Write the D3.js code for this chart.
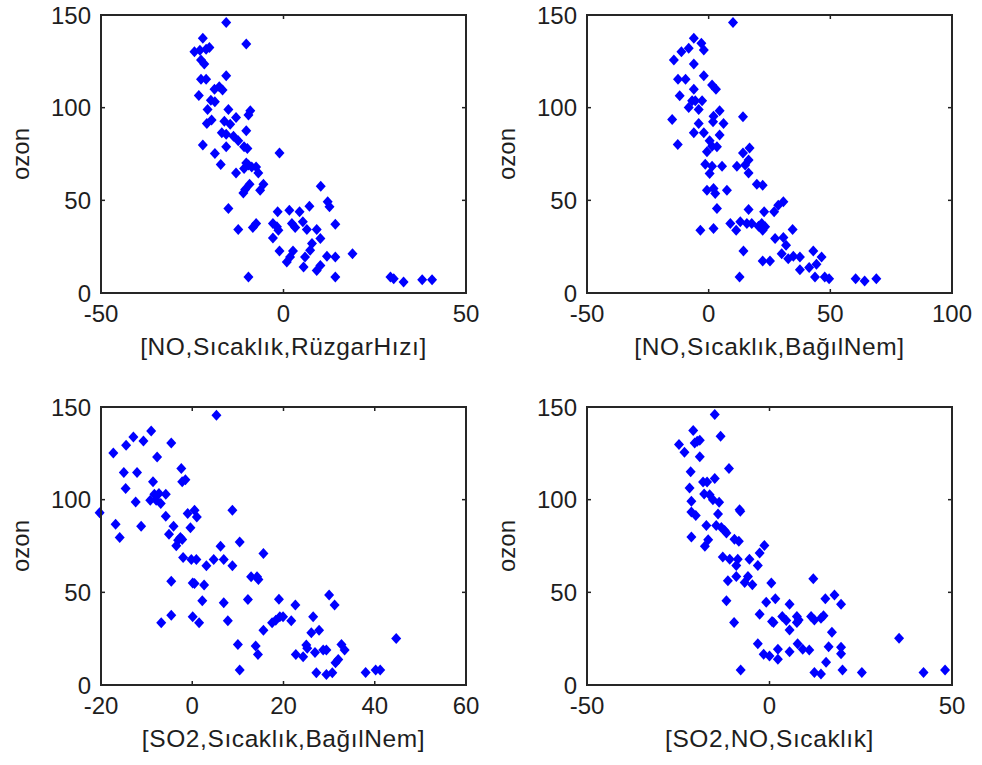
<!DOCTYPE html>
<html>
<head>
<meta charset="utf-8">
<script src="https://cdn.jsdelivr.net/npm/d3@7"></script>
<style>
  body { margin: 0; background: #fff; }
</style>
</head>
<body>
<div id="chart"></div>
<script>
    // ozon vs. model input, four panels
    var yLabel = "ozon";
    var xLabels = ["[NO,Sıcaklık,RüzgarHızı]", "[NO,Sıcaklık,BağılNem]",
                   "[SO2,Sıcaklık,BağılNem]", "[SO2,NO,Sıcaklık]"];
    var xDomains = [[-50, 50], [-50, 100], [-20, 60], [-50, 50]];
    var xTicks = [[-50, 0, 50], [-50, 0, 50, 100], [-20, 0, 20, 40, 60], [-50, 0, 50]];
    var yTicks = [0, 50, 100, 150];

    var pts1 = [[-15.7,145.9],[-22.1,137.4],[-10.2,134.3],[-24.4,130.2],[-22.9,131],[-21.2,131.5],[-20.3,132.5],
      [-22.6,125.7],[-21.7,123.5],[-15.7,117.2],[-22.6,115.3],[-21.2,115.3],[-18.9,110],[-17.6,111.3],[-16.7,109.5],
      [-23.2,106.6],[-19.9,104],[-18.8,103.2],[-20.8,99],[-15.1,99],[-9.1,98.3],[-9.6,96],[-13,94.7],[-21,91.5],
      [-19.7,93.3],[-16.2,92.7],[-14.6,91.1],[-10.2,87.5],[-16.9,86.4],[-15.7,85.7],[-13.7,84.6],[-12.4,82.1],
      [-10.8,78.9],[-9.9,78],[-22.1,79.8],[-15.7,78.9],[-18.8,75.3],[-1.1,75.6],[-17.2,69.3],[-10.2,70.2],
      [-9.6,69],[-8.7,68],[-7.5,68],[-10.8,67.2],[-13,64.8],[-6.9,64.8],[-9.3,58.7],[-10.5,55.8],[-11,54],
      [-5.5,58.7],[-6.4,55.5],[10.2,57.6],[-15.1,45.6],[12.1,49.2],[12.6,46.5],[-1.6,43.8],[1.6,44.7],[4.4,43.8],
      [7.1,46.8],[-12.4,34.2],[-8.4,35.3],[-7.5,37.5],[-2.9,37.5],[-1.8,35.7],[-1.4,33.9],[2.3,37.5],[3.2,35.3],
      [5.3,38.4],[6.4,34.2],[9.1,34.2],[14.2,37.1],[-2.9,29.7],[10.1,29.4],[7.8,26.7],[7.3,23],[-1.1,22.7],
      [2.6,22.7],[1.8,19.4],[0.9,16.7],[5.9,19.4],[11.9,19.8],[14.2,19.4],[18.9,21.2],[5.5,14],[9.1,12.2],
      [10.1,14.9],[-9.6,8.6],[14.2,8.6],[29.3,8.6],[30.2,7.7],[32.9,5.9],[38,7.2],[40.7,7.2]];

    var pts2 = [[10,145.9],[-6.1,137.4],[-3,134.7],[-2,131.1],[-8.2,132],[-11.2,130.2],[-14.3,125.7],[-6.1,123.5],
      [-2,117.2],[-12.6,115.3],[-9.5,115.3],[1.4,112.2],[3,109.9],[-6.1,109.9],[-11.9,106.4],[-6.8,103.7],
      [-5.5,103.7],[-2.7,103.7],[-8.2,100.1],[-4.1,99],[4.5,98.3],[2,95.4],[1.8,92.4],[14.1,95.1],[-15,93.6],
      [-4.1,91.5],[6.1,91.5],[-6.1,86.4],[-2,86.4],[4.5,85.2],[0.4,82.1],[1.4,79.2],[3.4,78.9],[-12.7,80.1],
      [-0.7,76.2],[16.8,78.3],[14.1,75.6],[16.4,71.7],[-1.4,69.5],[1.4,68.4],[0.4,64.5],[5.5,68.4],[11.6,68.4],
      [15,69],[16.4,64.8],[19.8,58.7],[22.2,58.2],[-0.7,55.5],[2,56.4],[2.7,53.7],[7.5,55.5],[30.7,49.2],
      [28.6,47.4],[26.9,43.8],[3.4,45.6],[16.4,45],[22.8,43.8],[8.9,37.5],[11.3,33.9],[13,38.4],[15.7,37.5],
      [17.7,37.5],[20.5,36],[21.8,37.5],[23.2,35.7],[22.2,33.9],[-3.4,33.9],[2,34.8],[34.5,34.2],[27.3,29.4],
      [30.7,29.9],[31.8,25.8],[30,21.2],[32.7,18.5],[34.8,19.8],[37.5,19.4],[43,22.7],[46.4,19.4],[14.3,22.7],
      [22.2,17.3],[25.2,17.3],[44.3,15.5],[41.3,13.7],[37.5,12.6],[12.7,8.6],[43.7,8.6],[47.7,8.6],[49.5,7.7],
      [60.4,7.7],[64.1,6.5],[68.9,7.7]];

    var pts3 = [[5.3,145.5],[-9,137.1],[-12.9,133.8],[-14.5,129.3],[-10.7,131.7],[-4.6,130.6],[-17.3,125.2],
      [-7.7,123],[-15,114.6],[-12.1,114.6],[-2.4,116.8],[-1.5,110.8],[-2.2,109.6],[-8.6,109.6],[-14.6,106],
      [-8.3,102.9],[-7.3,103.3],[-5.8,102.9],[-9.2,99.7],[-7.9,99.7],[-6.9,97.9],[-12.4,98.8],[-20.3,93],
      [-5.8,91.1],[-1,92.5],[0.5,94.3],[1,90.7],[8.8,94.3],[-16.8,86.8],[-11.2,85.7],[-4.1,85.7],[-0.4,84.8],
      [-15.9,79.6],[-5.1,81.4],[-3.1,78.1],[-2.6,79.6],[-2.2,78.5],[-3.5,75.1],[6.2,74.9],[10.4,77.2],[-2,68.8],
      [-0.2,67.7],[0.9,67.7],[3.1,64.3],[4.7,67.7],[6.9,67.7],[8.8,64.3],[15.6,71],[12.9,58.4],[14.2,58.4],
      [14.5,56.9],[-4.6,56],[0.1,55.1],[0.5,54.8],[2.6,53.9],[2.2,45.4],[6.9,44.4],[12.2,46.2],[19,46.3],
      [22.6,43.1],[30,48.5],[31.2,43.1],[-6.8,33.6],[-4.6,37.7],[0.1,36.8],[1.5,33.6],[7.8,34.7],[15.6,29.6],
      [17.5,33.6],[18.3,35],[19.2,36.8],[19.9,36.8],[21.7,34.7],[26.5,36.8],[26.1,28.2],[27.8,29.6],[10,21.9],
      [13.9,21],[14.4,16.5],[10.4,8.1],[22.7,16.5],[24.3,15.3],[25,21.6],[25.2,19.8],[26.9,17.6],[28.7,18.9],
      [29.4,18.9],[32.7,21.9],[33.4,18.9],[32,13.8],[31.4,12],[27.2,6.6],[29.4,5.7],[30.7,6.6],[38,6.8],
      [40.2,8.1],[41.2,8.1],[44.7,25.1]];

    var pts4 = [[-15,146],[-20.9,137.3],[-13.4,134.2],[-24.8,129.7],[-20.5,130.6],[-19.8,131.5],[-19.1,132.1],
      [-23.3,125.6],[-19.1,123.1],[-11.1,116.8],[-21.6,115],[-15,111.4],[-18.2,109.5],[-17.1,109.5],
      [-21.9,106.3],[-17.9,103.1],[-16.4,102.7],[-15.5,100],[-13.8,98.6],[-21.4,99.1],[-21.4,93.3],[-20.2,91.4],
      [-14.1,92.3],[-8.2,94.6],[-8,93.7],[-17.3,86.1],[-14.6,86.1],[-13.2,85],[-12.3,83.4],[-11.8,82],
      [-21.4,79.8],[-16.8,78.4],[-17.7,74.8],[-9.6,78.7],[-8.4,77.5],[-1.4,75.3],[-2.7,71.2],[-12.8,69],
      [-10.9,67.9],[-8.7,67.9],[-5.5,67.9],[-9.1,64.5],[-3.2,64.5],[-11.4,56.2],[-9.1,58.6],[-6.8,55.3],
      [-5.9,58.6],[-4.7,54.1],[0.5,55],[12,57.3],[-11.8,45.4],[-0.9,44.7],[1.6,46.5],[5.5,43.6],[15.3,46.5],
      [17.8,48.6],[19.6,43.6],[-9.7,33.7],[-2.7,38.2],[0.7,34.2],[1.1,33.7],[3.5,36.9],[4.6,34.8],[5.5,29.7],
      [7.5,36.9],[8,35.1],[7.5,33.7],[11.4,36.9],[12.3,35.1],[14.1,36],[14.8,37.3],[17.1,28.5],[-3.2,22.2],
      [-1.6,16.6],[0,15.7],[2.3,19.3],[2.3,13.9],[5.5,18],[7.7,22.2],[9.1,19.3],[10.9,18.9],[16.2,20.7],
      [15.5,12.3],[19.6,20.4],[19.6,16.8],[-7.9,8.1],[12.3,6.7],[14.1,5.9],[20,8.1],[25.3,6.8],[35.5,25.2],
      [42.2,6.8],[48.1,8.1]];

    var panelPts = [pts1, pts2, pts3, pts4];

    var winW = 982, winH = 765;
    //plot boxes, left/top of each panel
    var boxW = 365, boxH = 278;
    var lefts = [101, 587, 101, 587];
    var tops = [15, 15, 407, 407];

    var fontCss = "'Liberation Sans', Arial, sans-serif";
    var textCol = "#1e1e1e";

    const svg = d3
      .select("#chart")
      .append("svg")
      .attr("width", winW)
      .attr("height", winH)
      .attr("font-family", fontCss)
      .attr("font-size", 24);

    var diamond = "M0,-5.5L5,0L0,5.5L-5,0Z";

    panelPts.forEach(function (pts, i) {
      var x = d3.scaleLinear().domain(xDomains[i]).range([0, boxW]);
      var y = d3.scaleLinear().domain([0, 150]).range([boxH, 0]);

      var g = svg.append("g")
        .attr("transform", "translate(" + lefts[i] + "," + tops[i] + ")");

      //points first so the frame sits on top
      g.selectAll("path.pt")
        .data(pts)
        .enter()
        .append("path")
        .attr("class", "pt")
        .attr("d", diamond)
        .attr("fill", "#0000ff")
        .attr("transform", d => `translate(${x(d[0])},${y(d[1])})`);

      //inward ticks on all sides
      var tk = 4;
      g.selectAll("line.xt")
        .data(xTicks[i])
        .enter()
        .append("line")
        .attr("x1", d => x(d)).attr("x2", d => x(d))
        .attr("y1", boxH).attr("y2", boxH - tk)
        .attr("stroke", "#222").attr("stroke-width", 1.5);
      g.selectAll("line.xt2")
        .data(xTicks[i])
        .enter()
        .append("line")
        .attr("x1", d => x(d)).attr("x2", d => x(d))
        .attr("y1", 0).attr("y2", tk)
        .attr("stroke", "#222").attr("stroke-width", 1.5);
      g.selectAll("line.yt")
        .data(yTicks)
        .enter()
        .append("line")
        .attr("x1", 0).attr("x2", tk)
        .attr("y1", d => y(d)).attr("y2", d => y(d))
        .attr("stroke", "#222").attr("stroke-width", 1.5);
      g.selectAll("line.yt2")
        .data(yTicks)
        .enter()
        .append("line")
        .attr("x1", boxW).attr("x2", boxW - tk)
        .attr("y1", d => y(d)).attr("y2", d => y(d))
        .attr("stroke", "#222").attr("stroke-width", 1.5);

      g.append("rect")
        .attr("width", boxW)
        .attr("height", boxH)
        .attr("fill", "none")
        .attr("stroke", "#262626")
        .attr("stroke-width", 2);

      //tick labels
      g.selectAll("text.xl")
        .data(xTicks[i])
        .enter()
        .append("text")
        .attr("x", d => x(d))
        .attr("y", boxH + 29)
        .attr("text-anchor", "middle")
        .attr("fill", textCol)
        .text(d => d);
      g.selectAll("text.yl")
        .data(yTicks)
        .enter()
        .append("text")
        .attr("x", -10)
        .attr("y", d => y(d) + 8.5)
        .attr("text-anchor", "end")
        .attr("fill", textCol)
        .text(d => d);

      //axis titles (a bit wider in the original)
      g.append("text")
        .attr("x", boxW / 2)
        .attr("y", boxH + 62)
        .attr("text-anchor", "middle")
        .attr("font-size", 24.5)
        .attr("letter-spacing", 0.6)
        .attr("fill", textCol)
        .text(xLabels[i]);
      g.append("text")
        .attr("transform", "translate(-72," + boxH / 2 + ") rotate(-90)")
        .attr("text-anchor", "middle")
        .attr("fill", textCol)
        .text(yLabel);
    });
</script>
</body>
</html>
